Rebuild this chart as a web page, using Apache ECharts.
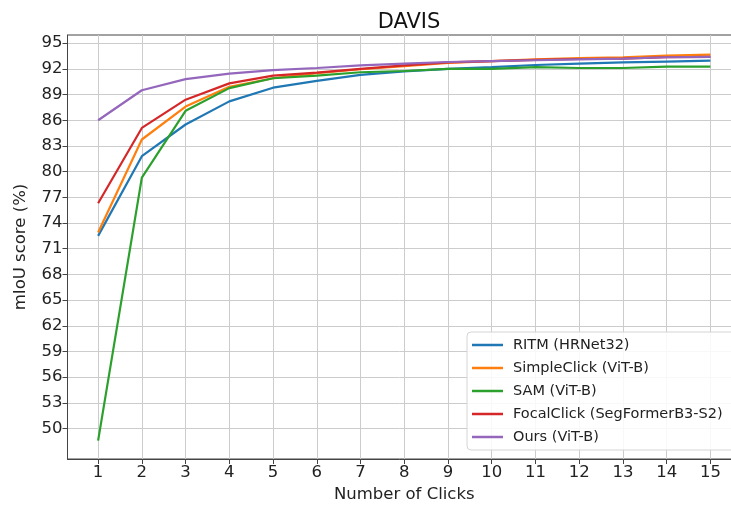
<!DOCTYPE html>
<html>
<head>
<meta charset="utf-8">
<script src="https://cdn.jsdelivr.net/npm/echarts@6/dist/echarts.min.js"></script>
<style>
  html, body { margin: 0; padding: 0; background: #fff; overflow: hidden; }
  #chart { width: 731px; height: 506px; }
</style>
</head>
<body>
<div id="chart"></div>
<script>
// Number of clicks on the x axis
const clicks = [1, 2, 3, 4, 5, 6, 7, 8, 9, 10, 11, 12, 13, 14, 15];
// y tick labels (mIoU %)
const yTicks = [50, 53, 56, 59, 62, 65, 68, 71, 74, 77, 80, 83, 86, 89, 92, 95];

// mIoU per click for each method
const ritm        = [72.5, 81.8, 85.5, 88.2, 89.8, 90.6, 91.3, 91.7, 92.0, 92.2, 92.45, 92.6, 92.75, 92.85, 92.95];
const simpleClick = [72.9, 83.75, 87.6, 89.9, 90.9, 91.5, 91.95, 92.3, 92.7, 92.9, 93.1, 93.25, 93.35, 93.55, 93.65];
const sam         = [48.6, 79.3, 87.1, 89.75, 90.9, 91.2, 91.6, 91.75, 92.0, 92.0, 92.2, 92.1, 92.1, 92.25, 92.25];
const focalClick  = [76.3, 85.1, 88.4, 90.3, 91.2, 91.55, 92.0, 92.4, 92.75, 92.9, 93.05, 93.15, 93.2, 93.35, 93.4];
const ours        = [86.0, 89.5, 90.8, 91.45, 91.85, 92.1, 92.4, 92.6, 92.8, 92.9, 93.0, 93.1, 93.2, 93.35, 93.4];

const seriesNames = [
  'RITM (HRNet32)',
  'SimpleClick (ViT-B)',
  'SAM (ViT-B)',
  'FocalClick (SegFormerB3-S2)',
  'Ours (ViT-B)'
];
const seriesData = [ritm, simpleClick, sam, focalClick, ours];
const colors = ['#1f77b4', '#ff7f0e', '#2ca02c', '#d62728', '#9467bd'];

const FONT = 'DejaVu Sans';
const chart = echarts.init(document.getElementById('chart'), null, { renderer: 'canvas' });

chart.setOption({
  animation: false,
  color: colors,
  textStyle: { fontFamily: FONT },
  title: {
    text: 'DAVIS',
    left: 404,
    textAlign: 'center',
    top: 7,
    textStyle: { fontFamily: FONT, fontSize: 21, fontWeight: 'normal', color: '#111' }
  },
  grid: {
    left: 67.5, top: 35, width: 673.5, bottom: 47,
    containLabel: false,
    outerBoundsMode: 'none',
    show: true, borderColor: '#444', borderWidth: 1, backgroundColor: 'transparent'
  },
  legend: {
    orient: 'vertical',
    left: 467, top: 332,
    padding: [5, 20, 5, 5],
    itemGap: 7,
    itemWidth: 31, itemHeight: 2.5,
    icon: 'rect',
    backgroundColor: 'rgba(255,255,255,0.85)',
    borderColor: '#d4d4d4', borderWidth: 1, borderRadius: 4,
    textStyle: { fontFamily: FONT, fontSize: 14.5, color: '#222', lineHeight: 16, padding: [0, 0, 0, 5] },
    data: seriesNames
  },
  xAxis: {
    type: 'value',
    min: 0.3, max: 15.7,
    name: 'Number of Clicks',
    nameLocation: 'middle',
    nameGap: 26,
    nameTextStyle: { fontFamily: FONT, fontSize: 16.5, color: '#222' },
    axisLine: { show: true, lineStyle: { color: '#444', width: 1 } },
    axisTick: { show: true, length: 5, customValues: clicks, lineStyle: { color: '#444' } },
    axisLabel: { customValues: clicks, margin: 5, fontFamily: FONT, fontSize: 16.5, color: '#222' },
    splitLine: { show: true, lineStyle: { color: '#cccccc', width: 1 } }
  },
  yAxis: {
    type: 'value',
    min: 46.45, max: 95.95,
    name: 'mIoU score (%)',
    nameLocation: 'middle',
    nameGap: 38,
    nameTextStyle: { fontFamily: FONT, fontSize: 16.5, color: '#222' },
    axisLine: { show: true, lineStyle: { color: '#444', width: 1 } },
    axisTick: { show: true, length: 5, customValues: yTicks, lineStyle: { color: '#444' } },
    axisLabel: { customValues: yTicks, margin: 5, fontFamily: FONT, fontSize: 16.5, color: '#222' },
    splitLine: { show: true, lineStyle: { color: '#cccccc', width: 1 } }
  },
  series: seriesNames.map((name, i) => ({
    name: name,
    type: 'line',
    data: clicks.map((c, j) => [c, seriesData[i][j]]),
    showSymbol: false,
    symbol: 'none',
    lineStyle: { width: 2.2, color: colors[i] },
    itemStyle: { color: colors[i] },
    z: 2 + i
  }))
});
</script>
</body>
</html>
